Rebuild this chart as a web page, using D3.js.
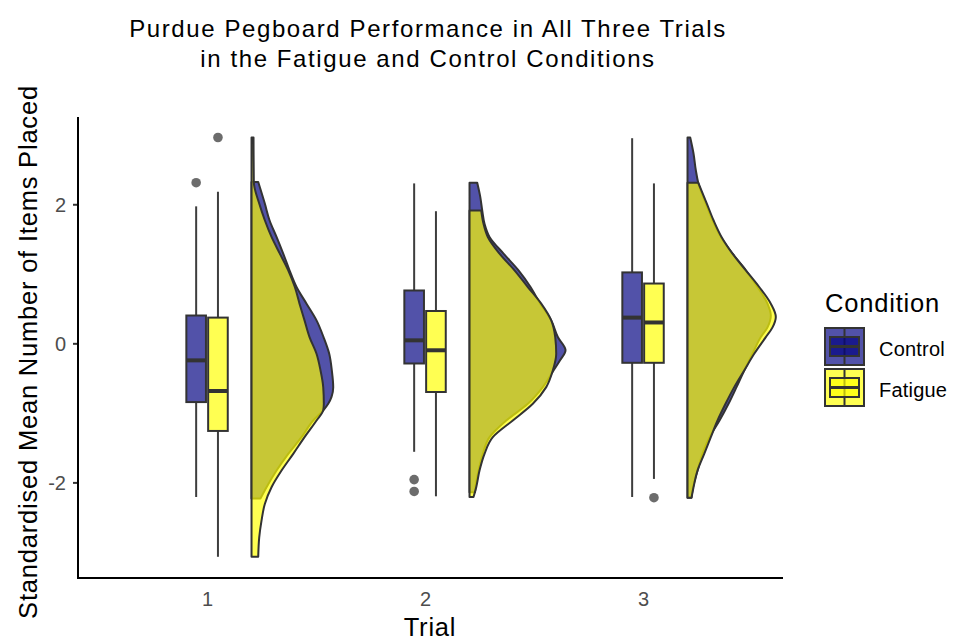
<!DOCTYPE html>
<html><head><meta charset="utf-8">
<script src="https://cdn.jsdelivr.net/npm/d3@7"></script>
<style>body{margin:0;background:#fff} svg{display:block} text{font-family:"Liberation Sans",Arial,Helvetica,sans-serif}</style>
</head><body><svg id="chart" width="954" height="640"></svg>
<script>
const trials = [1, 2, 3];
const conditions = ["Control", "Fatigue"];
const yTicks = [-2, 0, 2];
const titleLines = ["Purdue Pegboard Performance in All Three Trials", "in the Fatigue and Control Conditions"];
const xTitle = "Trial";
const yTitle = "Standardised Mean Number of Items Placed";
const legendTitle = "Condition";

// box stats per trial: [lower whisker, Q1, median, Q3, upper whisker]
const boxControl = [[-2.21, -0.845, -0.245, 0.40, 1.97], [-1.56, -0.29, 0.043, 0.76, 2.30], [-2.21, -0.28, 0.37, 1.02, 2.95]];
const boxFatigue = [[-3.07, -1.26, -0.686, 0.37, 2.18], [-2.20, -0.70, -0.10, 0.465, 1.90], [-1.95, -0.28, 0.30, 0.86, 2.30]];
const outliersControl = [[2.31], [-1.96, -2.13], []];
const outliersFatigue = [[2.96], [], [-2.22]];

// half-violin density profiles per trial: [value, relative density]
const violinControl = [
  [[2.32,0.067],[2.01,0.133],[1.77,0.18],[1.53,0.25],[1.29,0.317],[1.05,0.38],[0.81,0.45],[0.57,0.55],[0.33,0.65],[0.09,0.72],[-0.15,0.777],[-0.39,0.803],[-0.63,0.817],[-0.77,0.80],[-0.87,0.767],[-0.96,0.72],[-1.11,0.617],[-1.35,0.50],[-1.59,0.367],[-1.83,0.25],[-2.07,0.15],[-2.23,0.09]],
  [[2.31,0.077],[2.11,0.107],[1.91,0.127],[1.72,0.15],[1.53,0.20],[1.29,0.34],[1.05,0.49],[0.81,0.61],[0.57,0.707],[0.33,0.817],[0.09,0.883],[-0.10,0.96],[-0.24,0.907],[-0.39,0.84],[-0.63,0.733],[-0.87,0.583],[-1.11,0.367],[-1.35,0.20],[-1.59,0.133],[-1.83,0.09],[-2.07,0.06],[-2.14,0.055]],
  [[2.96,0.027],[2.73,0.06],[2.49,0.083],[2.31,0.107],[2.01,0.183],[1.77,0.25],[1.53,0.333],[1.29,0.45],[1.05,0.583],[0.81,0.70],[0.57,0.80],[0.40,0.833],[0.23,0.80],[0.09,0.733],[-0.15,0.65],[-0.39,0.567],[-0.63,0.49],[-0.87,0.41],[-1.11,0.32],[-1.35,0.22],[-1.59,0.15],[-1.83,0.10],[-2.07,0.055],[-2.22,0.04]]
];
const violinFatigue = [
  [[2.96,0.02],[2.32,0.023],[2.01,0.077],[1.77,0.133],[1.53,0.20],[1.29,0.283],[1.05,0.367],[0.81,0.433],[0.57,0.48],[0.33,0.53],[0.09,0.58],[-0.15,0.65],[-0.39,0.69],[-0.63,0.717],[-0.87,0.723],[-0.96,0.717],[-1.11,0.65],[-1.35,0.53],[-1.59,0.417],[-1.83,0.30],[-2.07,0.20],[-2.31,0.133],[-2.55,0.10],[-2.79,0.077],[-3.07,0.067]],
  [[1.91,0.117],[1.72,0.14],[1.53,0.183],[1.29,0.30],[1.05,0.45],[0.81,0.583],[0.57,0.717],[0.33,0.817],[0.09,0.857],[-0.15,0.867],[-0.39,0.833],[-0.63,0.767],[-0.87,0.633],[-1.11,0.433],[-1.35,0.233],[-1.59,0.15],[-1.83,0.10],[-2.07,0.067],[-2.21,0.04]],
  [[2.31,0.107],[2.01,0.193],[1.77,0.26],[1.53,0.34],[1.29,0.45],[1.05,0.583],[0.81,0.717],[0.57,0.833],[0.38,0.883],[0.23,0.85],[0.09,0.783],[-0.15,0.667],[-0.39,0.567],[-0.63,0.467],[-0.87,0.38],[-1.11,0.30],[-1.35,0.233],[-1.59,0.167],[-1.83,0.10],[-2.07,0.06],[-2.22,0.04]]
];

const fills = {Control: "#000080", Fatigue: "#ffff00"};
const alpha = 0.68;
const outline = "#333333";

const svg = d3.select("#chart");
const x = d3.scaleLinear().domain([0.408, 3.642]).range([78, 783]);
const y = d3.scaleLinear().domain([-3.375, 3.255]).range([578, 117]);
const wScale = d3.scaleLinear().domain([0, 1]).range([0, 100]);
const dodge = 0.05, boxHalf = 0.045, nudge = 0.204;

const groups = [];
trials.forEach((t, i) => {
  groups.push({trial: t, cond: "Control", box: boxControl[i], out: outliersControl[i], vio: violinControl[i], off: -dodge});
  groups.push({trial: t, cond: "Fatigue", box: boxFatigue[i], out: outliersFatigue[i], vio: violinFatigue[i], off: dodge});
});

// violins
const area = d3.area()
  .curve(d3.curveMonotoneY)
  .y(d => y(d[0]));
const gV = svg.append("g");
groups.forEach(g => {
  const base = x(g.trial + nudge);
  area.x0(base).x1(d => base + wScale(d[1]));
  gV.append("path").attr("d", area(g.vio))
    .attr("fill", fills[g.cond]).attr("fill-opacity", alpha)
    .attr("stroke", outline).attr("stroke-width", 2).attr("stroke-linejoin", "round");
});

// boxplots
const gB = svg.append("g");
groups.forEach(g => {
  const cx = x(g.trial + g.off);
  const x0 = x(g.trial + g.off - boxHalf), x1 = x(g.trial + g.off + boxHalf);
  const [lw, q1, med, q3, uw] = g.box;
  g.out.forEach(v => gB.append("circle").attr("cx", cx).attr("cy", y(v)).attr("r", 4.8)
    .attr("fill", outline).attr("fill-opacity", 0.72));
  gB.append("line").attr("x1", cx).attr("x2", cx).attr("y1", y(uw)).attr("y2", y(q3)).attr("stroke", outline).attr("stroke-width", 2).attr("stroke-opacity", 0.95);
  gB.append("line").attr("x1", cx).attr("x2", cx).attr("y1", y(q1)).attr("y2", y(lw)).attr("stroke", outline).attr("stroke-width", 2).attr("stroke-opacity", 0.95);
  gB.append("rect").attr("x", x0).attr("width", x1 - x0).attr("y", y(q3)).attr("height", y(q1) - y(q3))
    .attr("fill", fills[g.cond]).attr("fill-opacity", alpha).attr("stroke", outline).attr("stroke-width", 2);
  gB.append("line").attr("x1", x0).attr("x2", x1).attr("y1", y(med)).attr("y2", y(med)).attr("stroke", outline).attr("stroke-width", 4);
});

// axes
const yAxis = svg.append("g").attr("transform", "translate(78,0)")
  .call(d3.axisLeft(y).tickValues(yTicks).tickSize(5).tickPadding(7).tickFormat(d => String(d)));
yAxis.select(".domain").remove();
yAxis.selectAll(".tick line").attr("stroke", outline).attr("stroke-width", 2);
yAxis.selectAll(".tick text").attr("fill", "#4d4d4d").style("font-size", "20px").attr("font-family", null).attr("dy", "0.35em");

const xAxis = svg.append("g").attr("transform", "translate(0,578)")
  .call(d3.axisBottom(x).tickValues(trials).tickSize(0).tickPadding(14).tickFormat(d => String(d)));
xAxis.select(".domain").remove();
xAxis.selectAll(".tick text").attr("fill", "#4d4d4d").style("font-size", "20px").attr("font-family", null);

svg.append("path").attr("d", `M78,117V578H783`).attr("fill", "none").attr("stroke", "#000").attr("stroke-width", 2);

// titles
svg.append("g").selectAll("text").data(titleLines).join("text")
  .attr("x", 428).attr("y", (d, i) => 36.5 + i * 30).attr("text-anchor", "middle")
  .style("font-size", "24px").style("letter-spacing", "1.6px").attr("fill", "#000").text(d => d);
svg.append("text").attr("x", 430).attr("y", 635.5).attr("text-anchor", "middle").style("font-size", "25.5px").style("letter-spacing", "0.8px").text(xTitle);
svg.append("text").attr("transform", "translate(37,352) rotate(-90)").attr("text-anchor", "middle").style("font-size", "25.5px").style("letter-spacing", "0.8px").text(yTitle);

// legend
const lg = svg.append("g");
lg.append("text").attr("x", 825).attr("y", 311.5).style("font-size", "25.5px").style("letter-spacing", "0.8px").text(legendTitle);
conditions.forEach((c, i) => {
  const top = 328 + i * 41, left = 825, kw = 39, kh = 37;
  const g = lg.append("g");
  g.append("rect").attr("x", left).attr("y", top).attr("width", kw).attr("height", kh)
    .attr("fill", fills[c]).attr("fill-opacity", alpha).attr("stroke", outline).attr("stroke-width", 2);
  const cx = left + kw / 2;
  g.append("line").attr("x1", cx).attr("x2", cx).attr("y1", top + 1).attr("y2", top + kh - 1).attr("stroke", outline).attr("stroke-width", 2);
  g.append("rect").attr("x", left + 5).attr("y", top + 9).attr("width", kw - 10).attr("height", kh - 18)
    .attr("fill", fills[c]).attr("fill-opacity", alpha).attr("stroke", outline).attr("stroke-width", 2);
  g.append("line").attr("x1", left + 5).attr("x2", left + kw - 5).attr("y1", top + kh / 2).attr("y2", top + kh / 2).attr("stroke", outline).attr("stroke-width", 3);
  g.append("text").attr("x", 879).attr("y", top + 28).style("font-size", "20px").style("letter-spacing", "0.2px").text(c);
});
</script></body></html>
